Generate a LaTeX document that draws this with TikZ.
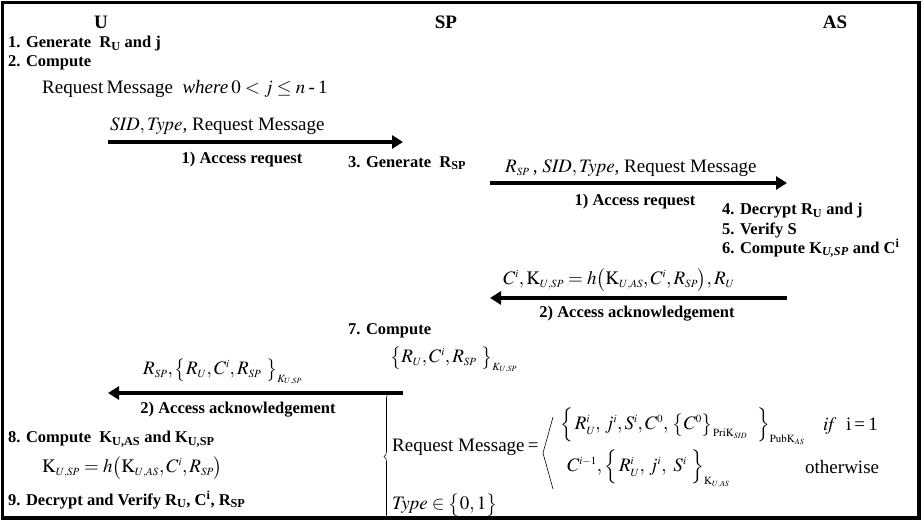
\documentclass[tikz,border=0pt]{standalone}
\usepackage{mathptmx}
\usepackage{fontspec}
\setmainfont{Liberation Serif}
\DeclareMathSizes{19}{19}{11}{8}
\usetikzlibrary{arrows.meta,decorations.pathreplacing}

\begin{document}
\begin{tikzpicture}[x=1pt,y=-1pt,
  lbl/.style={font=\fontsize{16.5}{18}\selectfont\bfseries, inner sep=0pt, anchor=west},
  clbl/.style={font=\fontsize{16.5}{18}\selectfont\bfseries, inner sep=0pt},
  head/.style={font=\fontsize{19}{21}\selectfont\bfseries, inner sep=0pt},
  msg/.style={font=\fontsize{19}{22}\selectfont, inner sep=0pt, anchor=west},
  flow/.style={line width=4pt, -{Triangle[length=11pt,width=13pt]}},
]
\useasboundingbox (0,0) rectangle (924,524);
\draw[line width=3.5pt] (2.5,2.5) rectangle (919,518);

% parties
\node[head] (U)  at (101,22) {U};
\node[head] (SP) at (446,22) {SP};
\node[head] (AS) at (835,22) {AS};

% user side, first steps
\node[lbl] (s1) at (8,44) {1. Generate\ \ R\textsubscript{U} and j};
\node[lbl] (s2) at (8,63) {2. Compute};
\node[msg] (rm) at (42,89) {Request\,Message\ \ \textit{where}\,$0<j\le n$\,-\,1};

% access request U -> SP
\node[msg] (m1) at (110,126) {$\mathit{SID},\mathit{Type}$, Request Message};
\coordinate (a1s) at (108,142);
\coordinate (a1e) at (403,142);
\draw[flow] (a1s) -- (a1e);
\node[clbl] (l1) at (242,160) {1) Access request};
\node[lbl] (s3) at (348,163) {3. Generate\ \ R\textsubscript{SP}};

% access request SP -> AS
\node[msg] (m2) at (505,168) {$R_{SP}$\,, $\mathit{SID},\mathit{Type}$, Request Message};
\coordinate (a2s) at (490,183);
\coordinate (a2e) at (787,183);
\draw[flow] (a2s) -- (a2e);
\node[clbl] (l2) at (635,202) {1) Access request};

% AS processing
\node[lbl] (s4) at (722,211) {4. Decrypt R\textsubscript{U} and j};
\node[lbl] (s5) at (722,230) {5. Verify S};
\node[lbl] (s6) at (722,248) {6. Compute K\textsubscript{\textit{U,SP}} and C\textsuperscript{i}};

% acknowledgement AS -> SP
\node[msg] (m3) at (503,280) {$C^{i},\mathrm{K}_{U,SP}=h\bigl(\mathrm{K}_{U,AS},C^{i},R_{SP}\bigr),R_{U}$};
\coordinate (a3s) at (787,298);
\coordinate (a3e) at (490,298);
\draw[flow] (a3s) -- (a3e);
\node[clbl] (l3) at (637,314) {2) Access acknowledgement};

% SP processing
\node[lbl] (s7) at (348,331) {7. Compute};
\node[msg] (m4) at (390,360) {$\bigl\{R_{U},C^{i},R_{SP}\ \bigr\}_{K_{U,SP}}$};

% acknowledgement SP -> U
\node[msg] (m5) at (143,372) {$R_{SP},\bigl\{R_{U},C^{i},R_{SP}\ \bigr\}_{K_{U,SP}}$};
\coordinate (a4s) at (403,393);
\coordinate (a4e) at (108,393);
\draw[flow] (a4s) -- (a4e);
\node[clbl] (l4) at (238,410) {2) Access acknowledgement};

% user side, final steps
\node[lbl] (s8) at (8,439) {8. Compute\ \ K\textsubscript{U,AS} and K\textsubscript{U,SP}};
\node[msg] (m6) at (42,468) {$\mathrm{K}_{U,SP}=h\bigl(\mathrm{K}_{U,AS},C^{i},R_{SP}\bigr)$};
\node[lbl] (s9) at (8,500) {9. Decrypt and Verify R\textsubscript{U}, C\textsuperscript{i}, R\textsubscript{SP}};

% definitions
\coordinate (bt) at (389,393);
\coordinate (bb) at (389,520);
\draw[line width=0.6pt, decorate, decoration={brace, amplitude=5pt}] (bb) -- (bt);
\node[msg] (rq) at (392,447) {Request Message\,=};
\coordinate (ang1) at (553,417);
\coordinate (ang2) at (543,453);
\coordinate (ang3) at (553,489);
\draw[line width=0.6pt] (ang1) -- (ang2) -- (ang3);
\node[msg] (c1) at (560,426) {$\Bigl\{\,R_{U}^{i},\,j^{i},S^{i},C^{0},\,\bigl\{C^{0}\bigr\}_{\mathrm{PriK}_{SID}}\ \ \Bigr\}_{\mathrm{PubK}_{AS}}$};
\node[msg] (if1) at (823,426) {$\mathit{if}$\ \ i\,=\,1};
\node[msg] (c2) at (567,469) {$C^{i-1},\Bigl\{\,R_{U}^{i},\,j^{i},\ S^{i}\ \Bigr\}_{\mathrm{K}_{U,AS}}$};
\node[msg] (ow) at (805,467) {otherwise};
\node[msg] (ty) at (392,505) {$\mathit{Type}\in\bigl\{0,1\bigr\}$};
\end{tikzpicture}
\end{document}
